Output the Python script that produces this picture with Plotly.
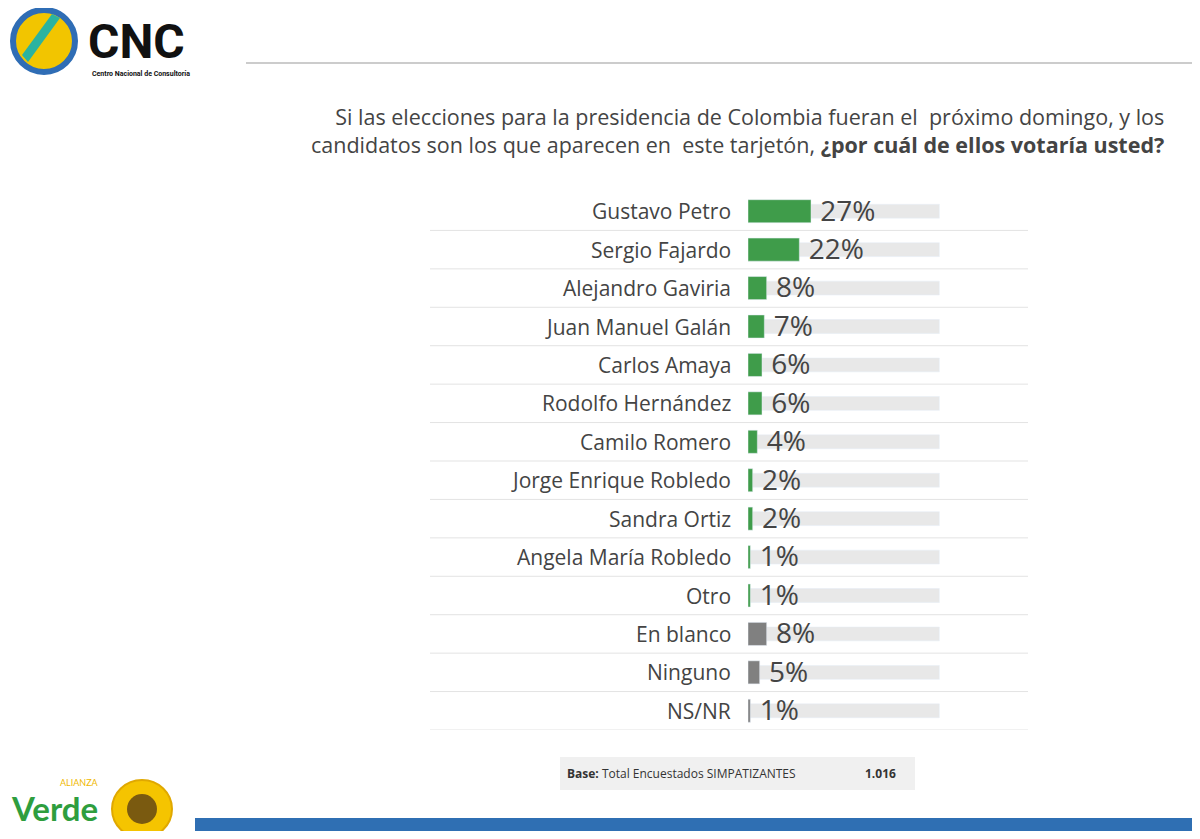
import plotly.graph_objects as go

names = ["Gustavo Petro","Sergio Fajardo","Alejandro Gaviria","Juan Manuel Galán","Carlos Amaya",
         "Rodolfo Hernández","Camilo Romero","Jorge Enrique Robledo","Sandra Ortiz","Angela María Robledo",
         "Otro","En blanco","Ninguno","NS/NR"]
values = [27,22,8,7,6,6,4,2,2,1,1,8,5,1]
colors = ["#3f9c4a"]*11 + ["#808080"]*3

W, H = 1184, 823
OFF = 8
def px(x): return (x - OFF) / W
def py(y): return 1 - (y - OFF) / H
FONT = "Open Sans"

fig = go.Figure()
n = len(names)
ys = list(range(n))
fig.add_trace(go.Bar(x=[82]*n, y=ys, orientation="h", marker=dict(color="#e8e8e8"), width=0.36,
                     hoverinfo="skip", showlegend=False))
fig.add_trace(go.Bar(x=values, y=ys, orientation="h", marker=dict(color=colors), width=0.6,
                     showlegend=False))
fig.add_trace(go.Scatter(x=[v + 4 for v in values], y=[y + 0.06 for y in ys], mode="text",
                         text=[f"{v}%" for v in values], textposition="middle right",
                         textfont=dict(size=28, color="#444", family=FONT), showlegend=False))
fig.update_layout(barmode="overlay", width=W, height=H, margin=dict(l=0, r=0, t=0, b=0),
                  plot_bgcolor="white", paper_bgcolor="white",
                  xaxis=dict(domain=[px(748), px(1028)], range=[0, 120], visible=False),
                  yaxis=dict(domain=[py(730), py(192)], range=[n - 0.5, -0.5], visible=False))

shapes = []
for i in range(n):
    shapes.append(dict(type="line", xref="paper", yref="y", x0=px(430), x1=px(1028), y0=i + 0.5, y1=i + 0.5,
                       line=dict(color="#e3e3e3", width=1)))
shapes.append(dict(type="line", xref="paper", yref="paper", x0=px(246), x1=1, y0=py(63), y1=py(63),
                   line=dict(color="#999", width=1)))
shapes.append(dict(type="circle", xref="paper", yref="paper", x0=px(13), x1=px(75), y0=py(72), y1=py(10),
                   fillcolor="#f2c500", line=dict(color="#2f6db5", width=6)))
shapes.append(dict(type="path", xref="paper", yref="paper",
                   path=f"M {px(28)},{py(62)} L {px(60)},{py(18)} L {px(52)},{py(14)} L {px(22)},{py(55)} Z",
                   fillcolor="#2bb3a0", line=dict(width=0)))
shapes.append(dict(type="rect", xref="paper", yref="paper", x0=px(195), x1=1, y0=0, y1=py(818),
                   fillcolor="#2f6fb3", line=dict(width=0)))
shapes.append(dict(type="rect", xref="paper", yref="paper", x0=px(560), x1=px(915), y0=py(790), y1=py(757),
                   fillcolor="#f0f0f0", line=dict(width=0), layer="below"))
shapes.append(dict(type="circle", xref="paper", yref="paper", x0=px(112), x1=px(172), y0=py(838), y1=py(780),
                   fillcolor="#f5c400", line=dict(color="#e0a800", width=2)))
shapes.append(dict(type="circle", xref="paper", yref="paper", x0=px(127), x1=px(157), y0=py(824), y1=py(794),
                   fillcolor="#7a5a10", line=dict(width=0)))
fig.update_layout(shapes=shapes)

def A(x, y, text, size, color="#444", xanchor="left", **kw):
    return dict(x=px(x), y=py(y), xref="paper", yref="paper", text=text, showarrow=False,
                xanchor=xanchor, yanchor="middle", font=dict(size=size, color=color, family=kw.pop("family", FONT)), **kw)

ann = []
for i, nm in enumerate(names):
    ann.append(dict(x=px(733), y=i, xref="paper", yref="y", text=nm, showarrow=False, xanchor="right",
                    yanchor="middle", font=dict(size=21, color="#444", family=FONT)))
ann += [
    A(86, 42, "<b>CNC</b>", 48, "#111", family="Roboto"),
    A(90, 74, "<b>Centro Nacional de Consultoría</b>", 7, "#111", family="Roboto"),
    A(1166, 130, "Si las elecciones para la presidencia de Colombia fueran el  próximo domingo, y los<br>candidatos son los que aparecen en  este tarjetón, <b>¿por cuál de ellos votaría usted?</b>",
      21.5, xanchor="right", align="right"),
    A(565, 773, "<b>Base:</b> Total Encuestados SIMPATIZANTES", 12, "#333"),
    A(863, 773, "<b>1.016</b>", 12, "#333"),
    A(9, 808, "<b>Verde</b>", 33, "#2e9e3e", family="Lato"),
    A(58, 782, "ALIANZA", 9, "#f0b800", family="Lato"),
]
fig.update_layout(annotations=ann)
fig.write_html("out.html")
